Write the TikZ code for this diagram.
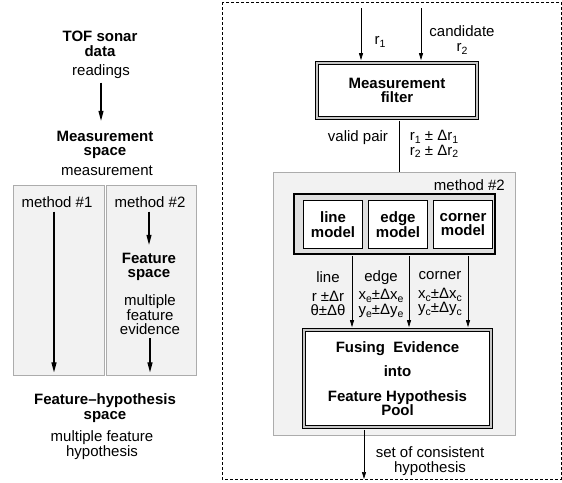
\documentclass[tikz,border=0pt]{standalone}
\usepackage{fontspec}
\setmainfont{Liberation Sans}
\usetikzlibrary{arrows.meta}
\newcommand{\sbs}[1]{\raisebox{-0.35ex}{\fontsize{10.5}{10.5}\selectfont #1}}
\begin{document}
\begin{tikzpicture}[x=1pt,y=-1pt,
  font=\fontsize{15}{14.5}\selectfont,
  txt/.style={inner sep=0pt, align=center},
  bt/.style={txt, font=\fontsize{15}{14.5}\selectfont\bfseries},
  arrL/.style={line width=1.1pt, -{Triangle[length=10pt,width=5pt]}},
  arrR/.style={line width=0.7pt, -{Triangle[length=7pt,width=4pt]}},
  panel/.style={draw=gray!65, fill=gray!10, line width=0.8pt, inner sep=0pt},
  dbl/.style={draw=black, line width=1.1pt, double=gray!45, double distance=1.8pt, fill=white, inner sep=0pt, align=center, font=\fontsize{15}{14.5}\selectfont\bfseries},
  modelbox/.style={draw=black, line width=0.9pt, fill=white, inner sep=0pt, align=center, minimum width=59pt, minimum height=48pt, font=\fontsize{15}{14.5}\selectfont\bfseries},
]
\useasboundingbox (0,0) rectangle (562,482);

% dashed frame
\draw[dash pattern=on 3pt off 2pt, line width=0.6pt] (222,2) rectangle (561,479);

% left panels
\node[panel, minimum width=91pt, minimum height=190pt] (p1) at (58.5,280) {};
\node[panel, minimum width=90pt, minimum height=190pt] (p2) at (151,280) {};

% left texts
\node[bt] (tof) at (100,44) {TOF sonar\\data};
\node[txt] (read) at (101,71.5) {readings};
\node[bt] (meas) at (105,145) {Measurement\\space};
\node[txt] (measl) at (107,171) {measurement};
\node[txt] (m1) at (57,202) {method \#1};
\node[txt] (m2) at (150,202) {method \#2};
\node[bt] (feat) at (149,267) {Feature\\space};
\node[txt] (fev) at (150,315) {multiple\\feature\\evidence};
\node[bt] (fh) at (105,408) {Feature–hypothesis\\space};
\node[txt] (fhl) at (102,445) {multiple feature\\hypothesis};

\coordinate (m1x) at (54,0);
\draw[arrL, shorten <=4pt, shorten >=10pt] (read.south) -- (read.south |- meas.north);
\draw[arrL, shorten <=4pt, shorten >=3pt] (m1.south -| m1x) -- (p1.south -| m1x);
\draw[arrL, shorten <=4pt, shorten >=8pt] (feat.north |- m2.south) -- (feat.north);
\draw[arrL, shorten <=3pt, shorten >=3pt] (fev.south) -- (fev.south |- p2.south);

% right side
\node[panel, minimum width=242pt, minimum height=263pt] (p3) at (394,303.5) {};
\node[txt, anchor=east] (m2r) at (505,185) {method \#2};

\node[dbl, minimum width=160pt, minimum height=55pt] (filter) at (397,90.5) {Measurement\\filter};
\coordinate (in1) at (361,8);
\coordinate (in2) at (421,8);
\draw[arrR, shorten >=2.3pt] (in1) -- (filter.north -| in1);
\draw[arrR, shorten >=2.3pt] (in2) -- (filter.north -| in2);
\node[txt] (r1) at (380,42) {r\sbs{1}};
\node[txt] (cand) at (462,40) {candidate\\r\sbs{2}};

\coordinate (vx) at (399,0);
\draw[line width=0.7pt, shorten <=2.3pt] (filter.south -| vx) -- (p3.north -| vx);
\node[txt] (vp) at (358,138) {valid pair};
\node[txt, align=left] (rr) at (434,144) {r\sbs{1} ± Δr\sbs{1}\\r\sbs{2} ± Δr\sbs{2}};

% models container
\node[draw=black, line width=2pt, fill=gray!25, inner sep=0pt, minimum width=201pt, minimum height=60pt] (mc) at (394.5,224) {};
\node[modelbox] (line) at (333,224.5) {line\\model};
\node[modelbox] (edge) at (398,224.5) {edge\\model};
\node[modelbox] (corner) at (463,224.5) {corner\\model};

% fusing box
\node[dbl, minimum width=187pt, minimum height=97pt] (fuse) at (397.5,378.5) {Fusing~ Evidence\\[10pt]into\\[10pt]Feature Hypothesis\\Pool};

\coordinate (cl) at (352,0);
\coordinate (ce) at (409,0);
\coordinate (cc) at (468,0);
\draw[arrR, shorten <=1pt, shorten >=2.3pt] (mc.south -| cl) -- (fuse.north -| cl);
\draw[arrR, shorten <=1pt, shorten >=2.3pt] (mc.south -| ce) -- (fuse.north -| ce);
\draw[arrR, shorten <=1pt, shorten >=2.3pt] (mc.south -| cc) -- (fuse.north -| cc);

\node[txt] (ll) at (328,294) {line\\[4pt]r ±Δr\\θ±Δθ};
\node[txt] (el) at (381,294) {edge\\[4pt]x\sbs{e}±Δx\sbs{e}\\y\sbs{e}±Δy\sbs{e}};
\node[txt] (cl2) at (440,294) {corner\\[4pt]x\sbs{c}±Δx\sbs{c}\\y\sbs{c}±Δy\sbs{c}};

\coordinate (ox) at (364,0);
\coordinate (obot) at (364,479);
\draw[arrR, shorten <=2.3pt] (fuse.south -| ox) -- (obot);
\node[txt] (set) at (430,461) {set of consistent\\hypothesis};
\end{tikzpicture}
\end{document}
